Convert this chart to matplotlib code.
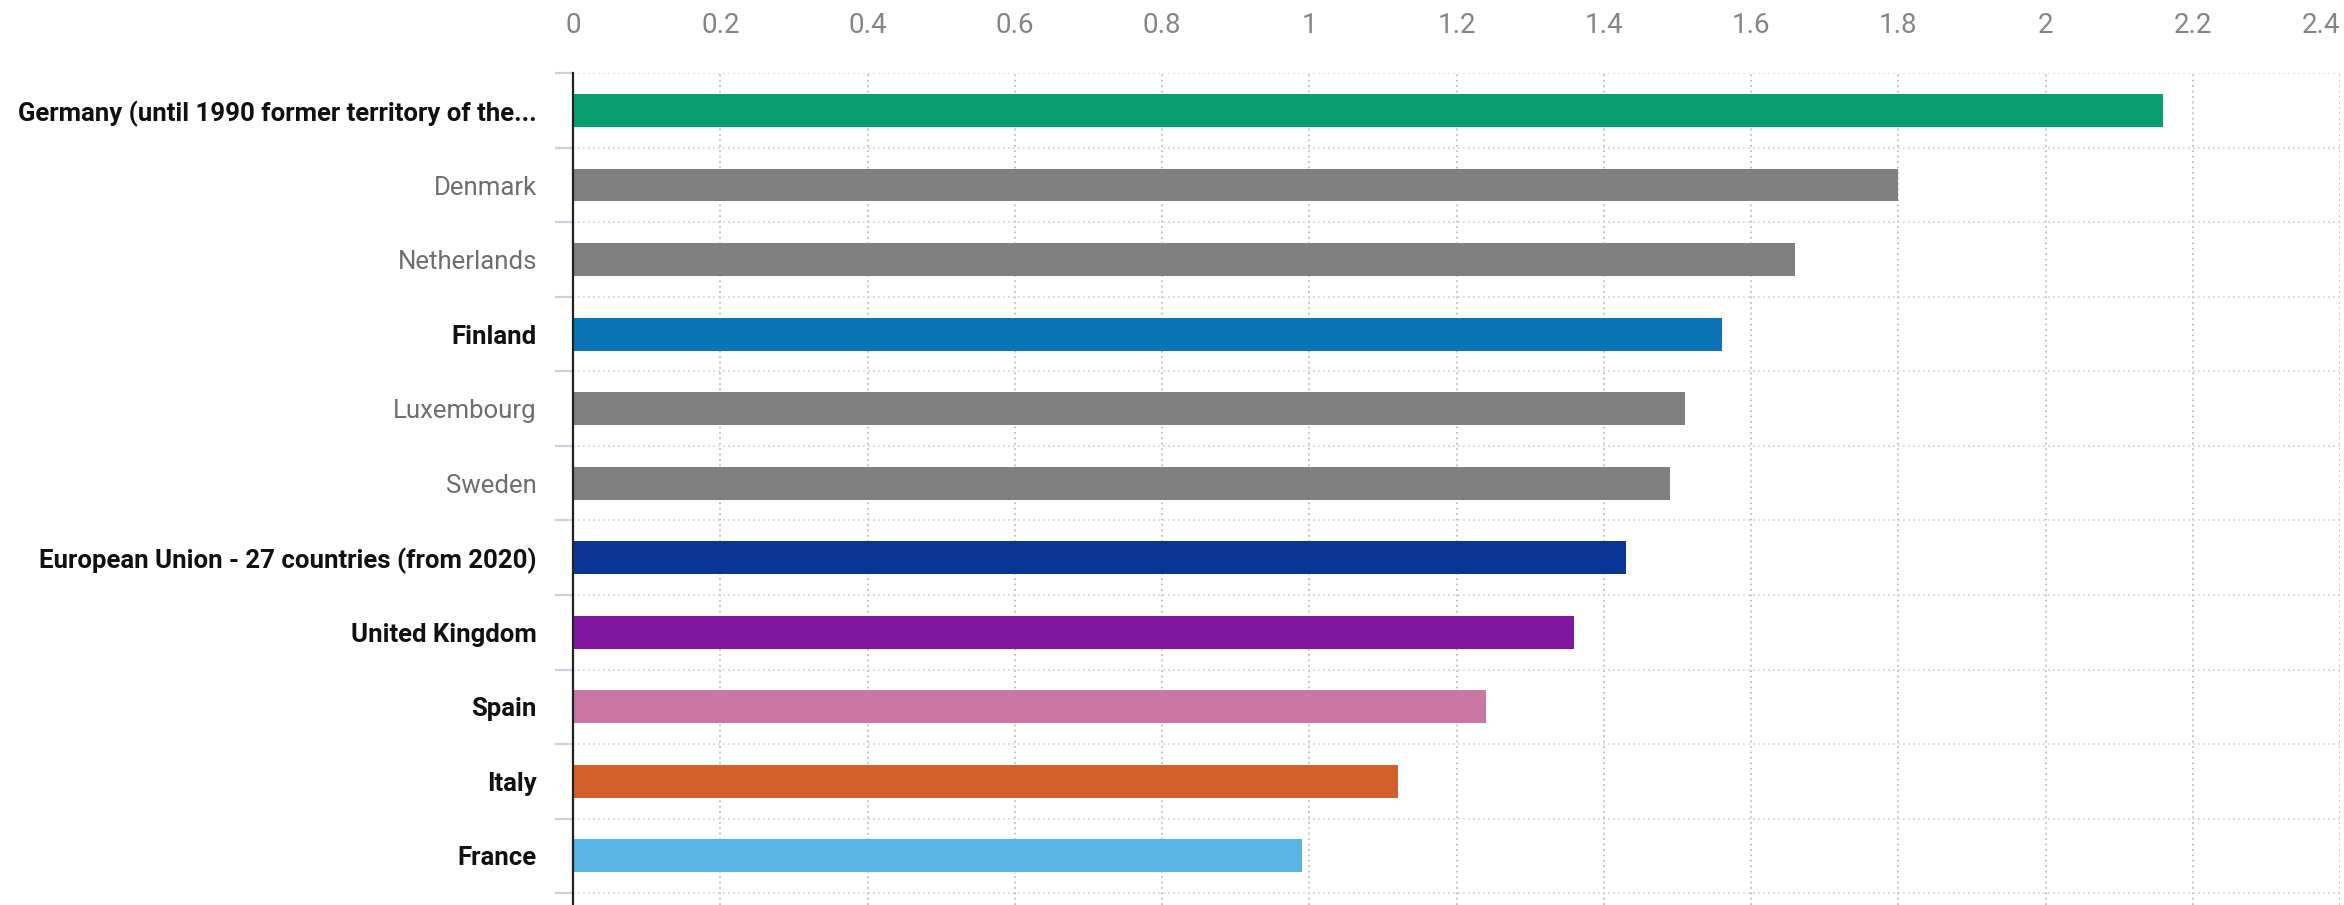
import numpy as np
import matplotlib.pyplot as plt
from matplotlib.ticker import FixedLocator, FuncFormatter

countries = [
    "Germany (until 1990 former territory of the...",
    "Denmark",
    "Netherlands",
    "Finland",
    "Luxembourg",
    "Sweden",
    "European Union - 27 countries (from 2020)",
    "United Kingdom",
    "Spain",
    "Italy",
    "France",
]
values = [2.16, 1.80, 1.66, 1.56, 1.51, 1.49, 1.43, 1.36, 1.24, 1.12, 0.99]
bar_colors = ["#079f70", "#808080", "#808080", "#0b74b4", "#808080", "#808080",
              "#0a3595", "#82179f", "#cc76a4", "#d3602a", "#5ab4e5"]
highlighted = [True, False, False, True, False, False, True, True, True, True, True]
x_ticks = [0, 0.2, 0.4, 0.6, 0.8, 1.0, 1.2, 1.4, 1.6, 1.8, 2.0, 2.2, 2.4]

fonts = ['Roboto', 'DejaVu Sans']

fig = plt.figure(figsize=(23.44, 9.05), dpi=100)
ax = fig.add_axes([0.2445, 0.0, 0.7538, 0.919])

y = np.arange(len(countries))
ax.barh(y, values, height=0.44, color=bar_colors, zorder=3)

ax.set_xlim(0, 2.4)
ax.set_ylim(10.66, -0.5)

# x axis on top
ax.xaxis.tick_top()
ax.set_xticks(x_ticks)
ax.xaxis.set_major_formatter(FuncFormatter(lambda v, p: f"{v:g}"))
ax.tick_params(axis='x', length=0, pad=25, labelsize=20, labelcolor='#858585')
xlabels = ax.get_xticklabels()
for lab in xlabels:
    lab.set_family(fonts)
# last label sits inside the figure edge
xlabels[-1].set_horizontalalignment('right')

# category labels
ax.set_yticks(y)
ax.set_yticklabels(countries)
ax.tick_params(axis='y', which='major', length=0, pad=26, labelsize=18.5)
for lab, hl in zip(ax.get_yticklabels(), highlighted):
    lab.set_family(fonts)
    if hl:
        lab.set_fontweight('bold')
        lab.set_color('#111111')
    else:
        lab.set_color('#6e6e6e')

# band boundaries: small ticks + dotted horizontal grid
ax.yaxis.set_minor_locator(FixedLocator(np.arange(-0.5, len(countries), 1.0)))
ax.tick_params(axis='y', which='minor', length=13, width=1.6, color='#cfcfe0')
ax.grid(axis='y', which='minor', color='#d2d2d2', linestyle=(0, (1, 2)), linewidth=1.2, zorder=0)
ax.grid(axis='x', which='major', color='#bdbdbd', linestyle=(0, (1, 2)), linewidth=1.3, zorder=0)

for side in ['top', 'right', 'bottom']:
    ax.spines[side].set_visible(False)
ax.spines['left'].set_color('#222222')
ax.spines['left'].set_linewidth(1.6)
ax.spines['left'].set_zorder(4)

fig.savefig("out.png", dpi=100)
